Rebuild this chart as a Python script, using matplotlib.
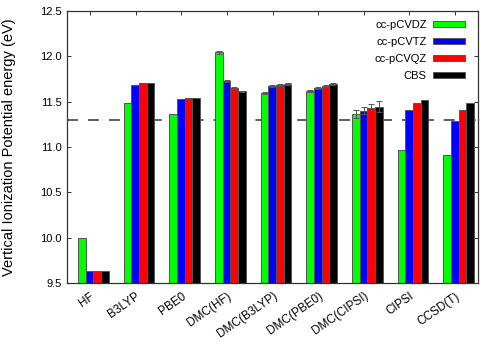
import matplotlib
matplotlib.use("Agg")
import matplotlib.pyplot as plt
import numpy as np

# dados
metodos = ["HF", "B3LYP", "PBE0", "DMC(HF)", "DMC(B3LYP)", "DMC(PBE0)",
           "DMC(CIPSI)", "CIPSI", "CCSD(T)"]
bases = ["cc-pCVDZ", "cc-pCVTZ", "cc-pCVQZ", "CBS"]

vdz = [10.00, 11.48, 11.36, 12.045, 11.595, 11.62, 11.36, 10.965, 10.915]
vtz = [9.635, 11.685, 11.53, 11.73, 11.67, 11.647, 11.40, 11.41, 11.287]
vqz = [9.635, 11.70, 11.54, 11.65, 11.68, 11.672, 11.425, 11.48, 11.41]
cbs = [9.638, 11.70, 11.54, 11.612, 11.692, 11.69, 11.445, 11.515, 11.48]

# barras de erro (só DMC)
err_vdz = [0, 0, 0, 0.015, 0.01, 0.01, 0.045, 0, 0]
err_vtz = [0, 0, 0, 0.01, 0.01, 0.01, 0.04, 0, 0]
err_vqz = [0, 0, 0, 0.01, 0.01, 0.01, 0.05, 0, 0]
err_cbs = [0, 0, 0, 0.008, 0.01, 0.01, 0.06, 0, 0]

ref_ip = 11.30

cores = ["#00ff00", "#0000ff", "#ff0000", "#000000"]
series = [vdz, vtz, vqz, cbs]
erros = [err_vdz, err_vtz, err_vqz, err_cbs]

plt.rcParams["font.family"] = ["Liberation Sans", "DejaVu Sans"]
plt.rcParams["font.size"] = 8

fig = plt.figure(figsize=(5, 3.5), dpi=100)
ax = fig.add_axes([0.134, 0.191, 0.822, 0.778])

x = np.arange(len(metodos))
largura = 0.168
inicio = -0.256

ax.axhline(ref_ip, color="#333333", linestyle=(0, (7.2, 6.5)), linewidth=1.1, zorder=1)

for i, (vals, errs, cor, nome) in enumerate(zip(series, erros, cores, bases)):
    pos = x + inicio + largura * (i + 0.5)
    ax.bar(pos, np.array(vals) - 9.5, bottom=9.5, width=largura, color=cor,
           edgecolor="#555555", linewidth=0.7, label=nome, zorder=2)
    mask = np.array(errs) > 0
    ax.errorbar(pos[mask], np.array(vals)[mask], yerr=np.array(errs)[mask],
                fmt="none", ecolor="#555555", elinewidth=0.7, capsize=2,
                capthick=0.7, zorder=3)

ax.set_xlim(-0.5, len(metodos) - 0.5)
ax.set_ylim(9.5, 12.5)
ax.set_yticks(np.arange(9.5, 12.51, 0.5))
ax.set_yticklabels([f"{v:.1f}" for v in np.arange(9.5, 12.51, 0.5)])
ax.set_xticks(x)
ax.set_xticklabels(metodos, rotation=35, ha="right", va="top",
                   rotation_mode="anchor", fontsize=8.5)
ax.tick_params(axis="both", direction="in", top=True, right=True,
               length=3, width=0.7, color="#333333", pad=4)
ax.tick_params(axis="x", pad=5)
for lado in ax.spines.values():
    lado.set_color("#333333")
    lado.set_linewidth(0.9)

ax.set_ylabel("Vertical Ionization Potential energy (eV)", fontsize=10.5)
ax.yaxis.set_label_coords(-0.124, 0.5)

ax.legend(loc="upper right", bbox_to_anchor=(0.968, 0.967), frameon=False,
          markerfirst=False, handlelength=2.9, handleheight=0.45,
          handletextpad=0.55, labelspacing=0.62, borderpad=0, borderaxespad=0)

fig.savefig("out.png", dpi=100)
